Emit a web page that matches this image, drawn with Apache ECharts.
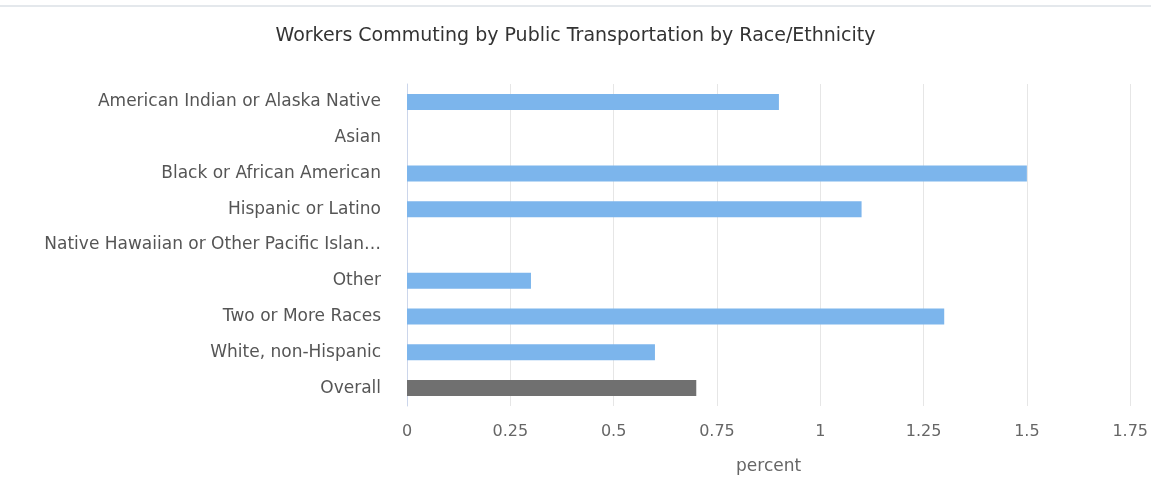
<!DOCTYPE html>
<html>
<head>
<meta charset="utf-8">
<script src="https://cdn.jsdelivr.net/npm/echarts@6/dist/echarts.min.js"></script>
<style>
  html, body { margin: 0; padding: 0; background: #fff; }
  #main { width: 1151px; height: 480px; }
</style>
</head>
<body>
<div id="main"></div>
<script>
// categories top to bottom
const categories = [
  'American Indian or Alaska Native',
  'Asian',
  'Black or African American',
  'Hispanic or Latino',
  'Native Hawaiian or Other Pacific Islander',
  'Other',
  'Two or More Races',
  'White, non-Hispanic',
  'Overall'
];
// percent, null = no bar
const values = [0.9, null, 1.5, 1.1, null, 0.3, 1.3, 0.6, 0.7];
const barColors = ['#7cb5ec', '#7cb5ec', '#7cb5ec', '#7cb5ec', '#7cb5ec', '#7cb5ec', '#7cb5ec', '#7cb5ec', '#707070'];

const font = '"DejaVu Sans", sans-serif';

const chart = echarts.init(document.getElementById('main'));
chart.setOption({
  animation: false,
  title: {
    text: 'Workers Commuting by Public Transportation by Race/Ethnicity',
    left: 'center',
    top: 22,
    textStyle: { fontFamily: font, fontSize: 19, fontWeight: 'normal', color: '#333' }
  },
  graphic: [{
    type: 'line',
    shape: { x1: 0, y1: 6, x2: 1151, y2: 6 },
    style: { stroke: '#e4e8ec', lineWidth: 2 }
  }],
  grid: { left: 407, right: 19, top: 84, bottom: 74 },
  xAxis: {
    type: 'value',
    min: 0,
    max: 1.75,
    interval: 0.25,
    name: 'percent',
    nameLocation: 'middle',
    nameGap: 52,
    nameTextStyle: { fontFamily: font, fontSize: 17, color: '#666' },
    axisLabel: { fontFamily: font, fontSize: 16, color: '#666', margin: 18 },
    axisLine: { show: false },
    axisTick: { show: false },
    splitLine: { lineStyle: { color: '#e6e6e6' } }
  },
  yAxis: {
    type: 'category',
    inverse: true,
    data: categories,
    axisLine: { lineStyle: { color: '#ccd6eb' } },
    axisTick: { show: false },
    axisLabel: {
      fontFamily: font,
      fontSize: 17,
      color: '#555',
      margin: 26,
      formatter: function (v) { return v.length > 38 ? v.slice(0, 38) + '…' : v; }
    }
  },
  series: [{
    type: 'bar',
    data: values.map(function (v, i) { return { value: v, itemStyle: { color: barColors[i] } }; }),
    barWidth: 16
  }]
});
</script>
</body>
</html>
